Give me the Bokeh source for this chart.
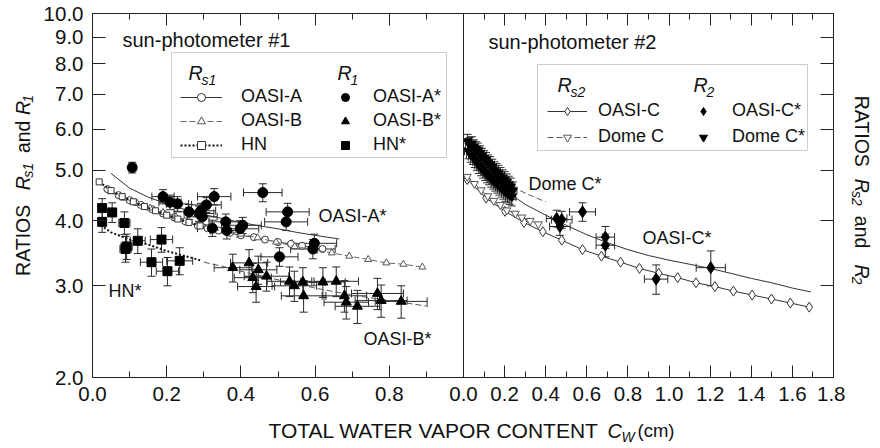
import math
from bokeh.plotting import figure
from bokeh.layouts import row, column
from bokeh.models import (Range1d, LinearAxis, LogAxis, FixedTicker, PrintfTickFormatter,
                          CustomJSTickFormatter, Span, Whisker, TeeHead, ColumnDataSource,
                          Legend, LegendItem, Label, BoxAnnotation)
from bokeh.embed import file_html
from bokeh.resources import INLINE

# ======================= DATA =======================
# ---- left panel: sun-photometer #1 ----
# R_s1 curves
rs1_oasi_a_x = [0.040, 0.070, 0.100, 0.130, 0.160, 0.190, 0.220, 0.250, 0.284, 0.310,
                0.340, 0.370, 0.400, 0.435, 0.465, 0.500, 0.535, 0.565, 0.595, 0.620]
rs1_oasi_a_y = [4.60, 4.48, 4.38, 4.29, 4.21, 4.13, 4.06, 3.99, 3.91, 3.87,
                3.83, 3.79, 3.75, 3.72, 3.68, 3.64, 3.61, 3.58, 3.55, 3.53]
rs1_oasi_b_x = [0.050, 0.085, 0.120, 0.155, 0.190, 0.225, 0.260, 0.295, 0.330, 0.365, 0.400,
                0.445, 0.495, 0.545, 0.595, 0.645, 0.692, 0.743, 0.792, 0.838, 0.889]
rs1_oasi_b_y = [4.55, 4.42, 4.32, 4.23, 4.15, 4.07, 4.00, 3.93, 3.87, 3.82, 3.77,
                3.71, 3.64, 3.57, 3.52, 3.47, 3.42, 3.37, 3.32, 3.30, 3.26]
rs1_hn_x = [0.018, 0.050, 0.080, 0.110, 0.140, 0.170, 0.200, 0.230, 0.260, 0.290]
rs1_hn_y = [4.75, 4.57, 4.45, 4.35, 4.26, 4.18, 4.10, 4.03, 3.97, 3.91]

# R_1 fitted curves
fit_oasi_a_x = [0.05, 0.10, 0.15, 0.20, 0.25, 0.30, 0.35, 0.40, 0.45, 0.50, 0.55, 0.60, 0.665]
fit_oasi_a_y = [4.93, 4.62, 4.44, 4.31, 4.20, 4.11, 4.04, 3.97, 3.91, 3.86, 3.80, 3.75, 3.69]
fit_hn_x = [0.022, 0.05, 0.10, 0.15, 0.20, 0.25, 0.29]
fit_hn_y = [3.92, 3.80, 3.68, 3.60, 3.50, 3.42, 3.36]
fit_oasi_b_x = [0.30, 0.35, 0.40, 0.50, 0.60, 0.70, 0.80, 0.905]
fit_oasi_b_y = [3.33, 3.27, 3.20, 3.08, 2.97, 2.88, 2.81, 2.74]

# R_1 measurements
r1_oasi_a_x = [0.107, 0.190, 0.209, 0.229, 0.260, 0.287, 0.296, 0.307, 0.328, 0.292, 0.323,
               0.359, 0.362, 0.398, 0.405, 0.459, 0.526, 0.522, 0.504, 0.598, 0.594]
r1_oasi_a_y = [5.06, 4.45, 4.34, 4.31, 4.16, 4.13, 4.07, 4.29, 4.45, 4.18, 3.87,
               3.98, 3.83, 3.86, 3.92, 4.53, 4.16, 3.98, 3.41, 3.62, 3.53]
r1_oasi_a_xe = [0.010, 0.030, 0.030, 0.030, 0.040, 0.040, 0.040, 0.040, 0.045, 0.040, 0.040,
                0.045, 0.045, 0.050, 0.050, 0.052, 0.058, 0.058, 0.050, 0.060, 0.060]
r1_oasi_a_ye = [0.12, 0.14, 0.14, 0.14, 0.14, 0.14, 0.14, 0.14, 0.16, 0.14, 0.14,
                0.14, 0.14, 0.14, 0.14, 0.18, 0.16, 0.15, 0.14, 0.15, 0.15]

r1_oasi_b_x = [0.378, 0.422, 0.432, 0.447, 0.441, 0.469, 0.531, 0.544, 0.567, 0.569,
               0.621, 0.657, 0.679, 0.684, 0.714, 0.768, 0.778, 0.832]
r1_oasi_b_y = [3.25, 3.32, 3.11, 3.22, 2.99, 3.13, 3.06, 3.00, 3.05, 2.87,
               3.05, 3.06, 2.87, 2.79, 2.74, 2.90, 2.81, 2.80]
r1_oasi_b_xe = [0.05, 0.05, 0.05, 0.05, 0.05, 0.06, 0.06, 0.06, 0.06, 0.06,
                0.06, 0.06, 0.06, 0.06, 0.06, 0.07, 0.07, 0.07]
r1_oasi_b_ye = [0.20, 0.20, 0.20, 0.20, 0.20, 0.20, 0.20, 0.20, 0.20, 0.20,
                0.20, 0.20, 0.20, 0.20, 0.20, 0.20, 0.20, 0.20]

r1_hn_x = [0.026, 0.053, 0.026, 0.086, 0.089, 0.092, 0.122, 0.186, 0.159, 0.202, 0.235]
r1_hn_y = [4.23, 4.15, 3.98, 3.96, 3.53, 3.57, 3.66, 3.68, 3.33, 3.20, 3.35]
r1_hn_xe = [0.008, 0.010, 0.008, 0.015, 0.015, 0.015, 0.020, 0.030, 0.030, 0.030, 0.035]
r1_hn_ye = [0.18, 0.18, 0.18, 0.20, 0.20, 0.20, 0.20, 0.20, 0.20, 0.20, 0.20]

# ---- right panel: sun-photometer #2 ----
rs2_oasi_c_x = [0.018, 0.110, 0.202, 0.294, 0.386, 0.478, 0.579, 0.671, 0.764, 0.856,
                0.950, 1.042, 1.131, 1.223, 1.313, 1.404, 1.498, 1.590, 1.682]
rs2_oasi_c_y = [4.80, 4.42, 4.17, 3.97, 3.81, 3.67, 3.52, 3.42, 3.33, 3.24,
                3.17, 3.11, 3.04, 2.99, 2.93, 2.88, 2.83, 2.78, 2.73]
rs2_domec_x = [0.018, 0.053, 0.086, 0.118, 0.147, 0.179, 0.211, 0.252, 0.284, 0.324, 0.364]
rs2_domec_y = [4.86, 4.71, 4.58, 4.46, 4.37, 4.29, 4.19, 4.13, 4.06, 4.00, 3.94]

fit_oasi_c_x = [0.10, 0.15, 0.20, 0.25, 0.30, 0.40, 0.50, 0.60, 0.70, 0.80, 0.90, 1.00,
                1.10, 1.20, 1.30, 1.40, 1.50, 1.60, 1.69]
fit_oasi_c_y = [5.15, 4.85, 4.62, 4.44, 4.30, 4.10, 3.92, 3.76, 3.63, 3.52, 3.43, 3.36,
                3.30, 3.24, 3.17, 3.10, 3.04, 2.97, 2.92]
fit_domec_x = [0.02, 0.05, 0.10, 0.15, 0.20, 0.25, 0.30, 0.35, 0.40]
fit_domec_y = [5.65, 5.42, 5.17, 4.97, 4.78, 4.62, 4.52, 4.43, 4.35]

r2_oasi_c_x = [0.453, 0.469, 0.478, 0.579, 0.690, 0.690, 0.937, 1.203]
r2_oasi_c_y = [4.04, 3.90, 4.02, 4.16, 3.72, 3.59, 3.09, 3.25]
r2_oasi_c_xe = [0.050, 0.050, 0.050, 0.063, 0.045, 0.045, 0.057, 0.071]
r2_oasi_c_ye = [0.15, 0.15, 0.15, 0.17, 0.18, 0.18, 0.20, 0.25]

r2_domec_x = [0.020, 0.025, 0.030, 0.035, 0.040, 0.045, 0.050, 0.055, 0.060, 0.065,
              0.070, 0.075, 0.080, 0.085, 0.090, 0.095, 0.100, 0.105, 0.110, 0.115,
              0.120, 0.125, 0.130, 0.135, 0.140, 0.145, 0.150, 0.155, 0.160, 0.165,
              0.170, 0.175, 0.180, 0.185, 0.190, 0.195, 0.200, 0.205, 0.210, 0.215,
              0.220, 0.225, 0.230, 0.235, 0.240]
r2_domec_y = [5.68, 5.44, 5.60, 5.36, 5.62, 5.31, 5.54, 5.24, 5.49, 5.18,
              5.46, 5.11, 5.39, 5.06, 5.33, 5.01, 5.27, 4.96, 5.23, 4.91,
              5.17, 4.87, 5.13, 4.82, 5.07, 4.78, 5.01, 4.74, 4.97, 4.70,
              4.93, 4.66, 4.88, 4.62, 4.83, 4.58, 4.79, 4.54, 4.74, 4.51,
              4.69, 4.48, 4.65, 4.45, 4.57]
r2_domec_xe = [0.020] * 45
r2_domec_ye = [0.18] * 45

# ---- axes ticks ----
x_ticks_left = [0.0, 0.2, 0.4, 0.6, 0.8]
x_minor_left = [0.1, 0.3, 0.5, 0.7, 0.9]
x_ticks_right = [0.0, 0.2, 0.4, 0.6, 0.8, 1.0, 1.2, 1.4, 1.6, 1.8]
x_minor_right = [0.1, 0.3, 0.5, 0.7, 0.9, 1.1, 1.3, 1.5, 1.7]
y_ticks = [2, 3, 4, 5, 6, 7, 8, 9, 10]

# ======================= LAYOUT =======================
FONT = "Liberation Sans"
INK = "#111111"
ERR = "#2a2a2a"
W, H = 880, 448
LEFT_W, RIGHT_W = 40, 35          # side strips holding the rotated titles
MAIN_H = 412                      # main figure height; bottom strip below it
FL, FR, FT, FB = 92, 833, 13, 377  # frame edges on the page (px)
DIV = 463                          # panel divider (px)
LEFT_SPAN, RIGHT_SPAN = 1.0, 1.8

xmax_main = LEFT_SPAN * (FR - FL) / (DIV - FL)
kx = (RIGHT_SPAN / LEFT_SPAN) * (DIV - FL) / (FR - DIV)
right_start = -RIGHT_SPAN * (DIV - FL) / (FR - DIV)

MAIN_W = W - LEFT_W - RIGHT_W
p = figure(width=MAIN_W, height=MAIN_H, output_backend="svg", toolbar_location=None,
           x_range=Range1d(0, xmax_main), y_range=Range1d(2, 10), y_axis_type="log",
           x_axis_location=None, y_axis_location=None,
           min_border_left=FL - LEFT_W, min_border_right=(W - RIGHT_W) - FR,
           min_border_top=FT, min_border_bottom=MAIN_H - FB)
p.extra_x_ranges = {"right": Range1d(right_start, RIGHT_SPAN)}
p.outline_line_color = None
p.grid.visible = False
p.background_fill_color = "white"
p.border_fill_color = "white"

main_ticks = x_ticks_left + [LEFT_SPAN + v / kx for v in x_ticks_right]
main_minor = x_minor_left + [LEFT_SPAN + v / kx for v in x_minor_right]
xfmt = CustomJSTickFormatter(args=dict(L=LEFT_SPAN, k=kx),
                             code="return tick < L - 1e-6 ? tick.toFixed(1) : ((tick - L) * k).toFixed(1);")


def style_axis(ax, major=12, minor=6, labels=True):
    ax.major_tick_in = major
    ax.major_tick_out = 0
    ax.minor_tick_in = minor
    ax.minor_tick_out = 0
    ax.axis_line_color = "#222222"
    ax.major_tick_line_color = "#222222"
    ax.minor_tick_line_color = "#222222"
    ax.major_label_text_font = FONT
    if labels:
        ax.major_label_text_font_size = "20.5px"
        ax.major_label_text_color = INK
    else:
        ax.major_label_text_font_size = "1px"
        ax.major_label_text_color = None
        ax.major_label_standoff = 0


xb = LinearAxis(ticker=FixedTicker(ticks=main_ticks, minor_ticks=main_minor), formatter=xfmt)
style_axis(xb)
xb.major_label_standoff = 9
p.add_layout(xb, "below")

xa = LinearAxis(ticker=FixedTicker(ticks=main_ticks, minor_ticks=main_minor), formatter=xfmt)
style_axis(xa, labels=False)
p.add_layout(xa, "above")

yl = LogAxis(ticker=FixedTicker(ticks=y_ticks, minor_ticks=[]), formatter=PrintfTickFormatter(format="%.1f"))
style_axis(yl, major=13)
yl.major_label_standoff = 9
p.add_layout(yl, "left")

yr = LogAxis(ticker=FixedTicker(ticks=y_ticks, minor_ticks=[]), formatter=PrintfTickFormatter(format="%.1f"))
style_axis(yr, major=13, labels=False)
p.add_layout(yr, "right")

p.add_layout(Span(location=LEFT_SPAN, dimension="height", line_color="#222222", line_width=1))


# ======================= GLYPHS =======================
def curve(xs, ys, color, dash="solid", width=1, rng="default"):
    return p.line(xs, ys, line_color=color, line_width=width, line_dash=dash, x_range_name=rng)


def open_markers(xs, ys, marker, size, color, rng="default"):
    return p.scatter(xs, ys, marker=marker, size=size, fill_color="white", line_color=color,
                     line_width=1, x_range_name=rng)


def points(xs, ys, xe, ye, marker, size, rng="default"):
    src = ColumnDataSource(dict(
        x=xs, y=ys,
        xl=[a - b for a, b in zip(xs, xe)], xu=[a + b for a, b in zip(xs, xe)],
        yl=[a - b for a, b in zip(ys, ye)], yu=[a + b for a, b in zip(ys, ye)]))
    for dim, base, lo, hi in (("height", "x", "yl", "yu"), ("width", "y", "xl", "xu")):
        p.add_layout(Whisker(source=src, base=base, lower=lo, upper=hi, dimension=dim,
                             line_color=ERR, line_width=1, x_range_name=rng,
                             lower_head=TeeHead(size=8, line_color=ERR, line_width=1),
                             upper_head=TeeHead(size=8, line_color=ERR, line_width=1)))
    return p.scatter("x", "y", source=src, marker=marker, size=size, fill_color="black",
                     line_color="black", x_range_name=rng)


# left panel
l_a = curve(rs1_oasi_a_x, rs1_oasi_a_y, "#333333")
m_a = open_markers(rs1_oasi_a_x, rs1_oasi_a_y, "circle", 7, "#333333")
l_b = curve(rs1_oasi_b_x, rs1_oasi_b_y, "#666666", dash="6 3")
m_b = open_markers(rs1_oasi_b_x, rs1_oasi_b_y, "triangle", 7, "#555555")
l_h = curve(rs1_hn_x, rs1_hn_y, "#111111", dash="2 2", width=2)
m_h = open_markers(rs1_hn_x, rs1_hn_y, "square", 6, "#333333")

curve(fit_oasi_a_x, fit_oasi_a_y, "#333333")
curve(fit_hn_x, fit_hn_y, "#111111", dash="2 2", width=2)
curve(fit_oasi_b_x, fit_oasi_b_y, "#555555", dash="6 3")

p_a = points(r1_oasi_a_x, r1_oasi_a_y, r1_oasi_a_xe, r1_oasi_a_ye, "circle", 10)
p_b = points(r1_oasi_b_x, r1_oasi_b_y, r1_oasi_b_xe, r1_oasi_b_ye, "triangle", 10)
p_h = points(r1_hn_x, r1_hn_y, r1_hn_xe, r1_hn_ye, "square", 9)

# right panel
l_c = curve(rs2_oasi_c_x, rs2_oasi_c_y, "#333333", rng="right")
m_c = open_markers(rs2_oasi_c_x, rs2_oasi_c_y, "diamond", 10, "#333333", rng="right")
l_d = curve(rs2_domec_x, rs2_domec_y, "#555555", dash="6 3", rng="right")
m_d = open_markers(rs2_domec_x, rs2_domec_y, "inverted_triangle", 8, "#555555", rng="right")

curve(fit_oasi_c_x, fit_oasi_c_y, "#333333", rng="right")
curve(fit_domec_x, fit_domec_y, "#555555", dash="6 3", rng="right")

p_d = points(r2_domec_x, r2_domec_y, r2_domec_xe, r2_domec_ye, "inverted_triangle", 9, rng="right")
p_c = points(r2_oasi_c_x, r2_oasi_c_y, r2_oasi_c_xe, r2_oasi_c_ye, "diamond", 12, rng="right")


# ======================= TEXT =======================
def text_on(fig, t, x, y, size=17, italic=False, angle=0.0, units="screen"):
    fig.add_layout(Label(x=x, y=y, x_units=units, y_units=units, text=t,
                         text_font=FONT, text_font_size=f"{size}px",
                         text_font_style="italic" if italic else "normal",
                         text_align="left", text_baseline="middle", angle=angle,
                         text_color=INK))


def text(t, px, py, size=17, italic=False):
    # page pixel position -> main frame screen units
    text_on(p, t, px - FL, FB - py, size, italic)


text("sun-photometer #1", 122, 39, 20)
text("sun-photometer #2", 488, 41, 20)
text("OASI-A*", 318, 215, 18)
text("HN*", 108, 290, 18)
text("OASI-B*", 363, 338, 18)
text("Dome C*", 528, 183, 18)
text("OASI-C*", 642, 237, 18)


def strip(w, h):
    f = figure(width=w, height=h, output_backend="svg", toolbar_location=None,
               x_range=Range1d(0, w), y_range=Range1d(h, 0),
               x_axis_location=None, y_axis_location=None, min_border=0)
    f.outline_line_color = None
    f.grid.visible = False
    f.background_fill_color = "white"
    f.border_fill_color = "white"
    return f


# left strip: y title (reads upward)
sl = strip(LEFT_W, MAIN_H)
up = math.pi / 2
for t, x, y, s, it in (("RATIOS", 22, 297, 19.5, False), ("R", 22, 200, 19.5, True),
                       ("s1", 27, 186, 14, True), ("and", 22, 158, 19.5, False),
                       ("R", 22, 115, 19.5, True), ("1", 27, 101, 14, True)):
    text_on(sl, t, x, y, s, it, angle=up, units="data")

# right strip: y title (reads downward)
sr = strip(RIGHT_W, MAIN_H)
down = -math.pi / 2
x0 = W - RIGHT_W
for t, x, y, s, it in (("RATIOS", 861, 93, 19.5, False), ("R", 861, 187, 19.5, True),
                       ("s2", 856, 201, 14, True), ("and", 861, 229, 19.5, False),
                       ("R", 861, 284, 19.5, True), ("2", 856, 298, 14, True)):
    text_on(sr, t, x - x0, y, s, it, angle=down, units="data")

# bottom strip: x title
sb = strip(W, H - MAIN_H)
for t, x, y, s, it in (("TOTAL WATER VAPOR CONTENT", 268, 430, 21, False),
                       ("C", 607, 430, 20, True), ("W", 621, 436, 14, True),
                       ("(cm)", 637, 430, 18.5, False)):
    text_on(sb, t, x, y - MAIN_H, s, it, units="data")


# ======================= LEGENDS =======================
def box(l, r, t, b):
    p.add_layout(BoxAnnotation(left=l - FL, right=r - FL, top=FB - t, bottom=FB - b,
                               left_units="screen", right_units="screen",
                               top_units="screen", bottom_units="screen",
                               fill_color="white", fill_alpha=0.0,
                               line_color="#555555", line_width=1))


def legend(items, px, py_bottom, glyph_w, standoff, spacing):
    p.add_layout(Legend(items=items, location=(px - FL, FB - py_bottom), orientation="vertical",
                        glyph_width=glyph_w, glyph_height=20, label_height=20,
                        label_standoff=standoff, spacing=spacing, padding=0, margin=0,
                        border_line_color=None, background_fill_alpha=0.0,
                        label_text_font=FONT, label_text_font_size="18px",
                        label_text_color=INK))


box(171, 446, 52, 157)
legend([LegendItem(label="OASI-A", renderers=[l_a, m_a]),
        LegendItem(label="OASI-B", renderers=[l_b, m_b]),
        LegendItem(label="HN", renderers=[l_h, m_h])], 180, 155, 42, 19, 3)
legend([LegendItem(label="OASI-A*", renderers=[p_a]),
        LegendItem(label="OASI-B*", renderers=[p_b]),
        LegendItem(label="HN*", renderers=[p_h])], 335, 155, 20, 18, 3)
text("R", 188, 72, 19.5, italic=True)
text("s1", 201, 79, 14, italic=True)
text("R", 337, 72, 19.5, italic=True)
text("1", 350, 79, 14, italic=True)

box(537, 807, 64, 150)
legend([LegendItem(label="OASI-C", renderers=[l_c, m_c]),
        LegendItem(label="Dome C", renderers=[l_d, m_d])], 547, 147, 40, 11, 5)
legend([LegendItem(label="OASI-C*", renderers=[p_c]),
        LegendItem(label="Dome C*", renderers=[p_d])], 693, 147, 20, 19, 5)
text("R", 557, 84, 19.5, italic=True)
text("s2", 570, 91, 14, italic=True)
text("R", 693, 84, 19.5, italic=True)
text("2", 706, 91, 14, italic=True)

page = column(row(sl, p, sr, spacing=0), sb, spacing=0)
open("out.html", "w").write(file_html(page, INLINE))
